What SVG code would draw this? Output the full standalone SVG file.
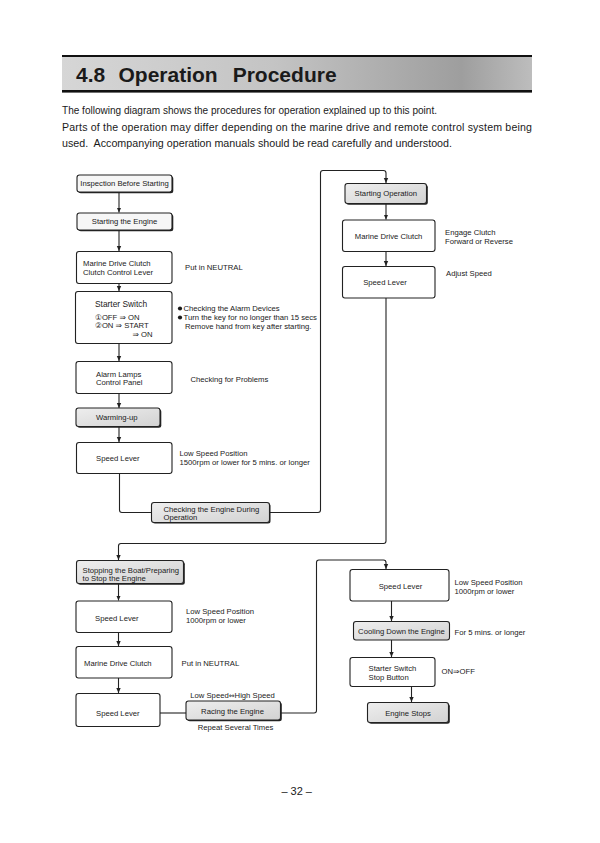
<svg xmlns="http://www.w3.org/2000/svg" width="600" height="843" viewBox="0 0 600 843">
<defs>
<linearGradient id="hdr" x1="0" y1="0" x2="1" y2="0">
<stop offset="0" stop-color="#d6d6d6"/>
<stop offset="0.45" stop-color="#c4c4c4"/>
<stop offset="0.85" stop-color="#9e9e9e"/>
<stop offset="1" stop-color="#bdbdbd"/>
</linearGradient>
<linearGradient id="shd" x1="0" y1="0" x2="1" y2="1">
<stop offset="0" stop-color="#eeeeee"/>
<stop offset="1" stop-color="#d2d2d2"/>
</linearGradient>
<marker id="ar" markerWidth="6" markerHeight="6" refX="5" refY="3" orient="auto" markerUnits="userSpaceOnUse">
<path d="M0,0.8 L5,3 L0,5.2 Z" fill="#222"/>
</marker>
</defs>
<style>
text { font-family: "Liberation Sans", Arial, "DejaVu Sans", sans-serif; fill: #1a1a1a; }
.t { font-size: 7.7px; }
.m { text-anchor: middle; }
.body { font-size: 10.6px; }
.box { fill: #ffffff; stroke: #222; stroke-width: 1.1; }
.sbox { fill: url(#shd); stroke: #222; stroke-width: 1.1; }
.lite { fill: #f6f6f6; stroke: #222; stroke-width: 1.1; }
.sh { fill: #222; }
.c { fill: none; stroke: #222; stroke-width: 1.1; }
.dv { font-family: "DejaVu Sans", sans-serif; font-size: 7px; }
</style>
<rect width="600" height="843" fill="#ffffff"/>

<g id="header">
<rect x="62" y="56" width="470" height="35" fill="url(#hdr)"/>
<rect x="62" y="55" width="470" height="2" fill="#111"/>
<rect x="62" y="90" width="470" height="2.6" fill="#111"/>
<text x="76" y="82" font-size="21" font-weight="bold">4.8</text>
<text x="118.5" y="82" font-size="21" font-weight="bold">Operation</text>
<text x="232.7" y="82" font-size="21" font-weight="bold">Procedure</text>
</g>

<g id="intro">
<text class="body" x="62" y="114" textLength="375" lengthAdjust="spacingAndGlyphs">The following diagram shows the procedures for operation explained up to this point.</text>
<text class="body" x="62" y="131" textLength="470" lengthAdjust="spacing">Parts of the operation may differ depending on the marine drive and remote control system being</text>
<text class="body" x="62" y="147" textLength="390" lengthAdjust="spacingAndGlyphs" xml:space="preserve">used.  Accompanying operation manuals should be read carefully and understood.</text>
</g>

<g id="connectors">
<line class="c" x1="119" y1="192" x2="119" y2="212.5" marker-end="url(#ar)"/>
<line class="c" x1="119" y1="230" x2="119" y2="251" marker-end="url(#ar)"/>
<line class="c" x1="119" y1="283.5" x2="119" y2="291" marker-end="url(#ar)"/>
<line class="c" x1="119" y1="343.5" x2="119" y2="361" marker-end="url(#ar)"/>
<line class="c" x1="119" y1="393.5" x2="119" y2="408" marker-end="url(#ar)"/>
<line class="c" x1="119" y1="427" x2="119" y2="442" marker-end="url(#ar)"/>
<path class="c" d="M119.5,473.5 V510 Q119.5,512.5 122,512.5 H151.5"/>
<path class="c" d="M269.5,512.5 H318 Q320.5,512.5 320.5,510 V173 Q320.5,170.5 323,170.5 H383.5 Q386,170.5 386,173 V183" marker-end="url(#ar)"/>
<line class="c" x1="386" y1="203.5" x2="386" y2="219.5" marker-end="url(#ar)"/>
<line class="c" x1="386" y1="251.5" x2="386" y2="266" marker-end="url(#ar)"/>
<path class="c" d="M386,298 V541 Q386,543.5 383.5,543.5 H121 Q118.5,543.5 118.5,546 V560" marker-end="url(#ar)"/>
<line class="c" x1="118.5" y1="583.5" x2="118.5" y2="600.5" marker-end="url(#ar)"/>
<line class="c" x1="118.5" y1="632.5" x2="118.5" y2="646" marker-end="url(#ar)"/>
<line class="c" x1="118.5" y1="678" x2="118.5" y2="693" marker-end="url(#ar)"/>
<line class="c" x1="160" y1="713" x2="186" y2="713"/>
<path class="c" d="M280.5,713 H314 Q316.5,713 316.5,710.5 V562.5 Q316.5,560 319,560 H383.5 Q386,560 386,562.5 V569" marker-end="url(#ar)"/>
<line class="c" x1="391.5" y1="601" x2="391.5" y2="621" marker-end="url(#ar)"/>
<line class="c" x1="391.5" y1="640" x2="391.5" y2="657" marker-end="url(#ar)"/>
<line class="c" x1="411.5" y1="686.5" x2="411.5" y2="702" marker-end="url(#ar)"/>
</g>

<g id="n-inspection">
<rect class="sh" x="78.3" y="176.3" width="95" height="17" rx="2.5"/>
<rect class="lite" x="77" y="175" width="95" height="17" rx="2.5"/>
<text class="t m" x="124.5" y="186.3">Inspection Before Starting</text>
</g>
<g id="n-starting-engine">
<rect class="sh" x="78.3" y="214.3" width="95" height="17" rx="2.5"/>
<rect class="lite" x="77" y="213" width="95" height="17" rx="2.5"/>
<text class="t m" x="124.5" y="224.3">Starting the Engine</text>
</g>
<g id="n-marine1">
<rect class="box" x="76.5" y="251.5" width="95.5" height="32" rx="2.5"/>
<text class="t" x="83" y="266.3">Marine Drive Clutch</text>
<text class="t" x="83" y="275">Clutch Control Lever</text>
<text class="t" x="185" y="269.5">Put in NEUTRAL</text>
</g>
<g id="n-starter1">
<rect class="box" x="75.5" y="291.5" width="96.5" height="52" rx="2.5"/>
<text x="95" y="307.3" font-size="8.4">Starter Switch</text>
<text class="t" x="95" y="319.5">①OFF ⇒ ON</text>
<text class="t" x="95" y="328">②ON ⇒ START</text>
<text class="t" x="132.5" y="337">⇒ ON</text>
<circle cx="180" cy="308.5" r="2.1" fill="#1a1a1a"/>
<text class="t" x="183.5" y="311.2">Checking the Alarm Devices</text>
<circle cx="180" cy="317.5" r="2.1" fill="#1a1a1a"/>
<text class="t" x="183.5" y="320.2">Turn the key for no longer than 15 secs</text>
<text class="t" x="185" y="329">Remove hand from key after starting.</text>
</g>
<g id="n-alarm">
<rect class="box" x="76" y="361.5" width="96" height="32" rx="2.5"/>
<text class="t" x="96" y="376.5">Alarm Lamps</text>
<text class="t" x="96" y="385">Control Panel</text>
<text class="t" x="190.5" y="382">Checking for Problems</text>
</g>
<g id="n-warming">
<rect class="sh" x="77.3" y="409.3" width="84" height="18.5" rx="2.5"/>
<rect class="sbox" x="76" y="408" width="84" height="18.5" rx="2.5"/>
<text class="t" x="96" y="419.8">Warming-up</text>
</g>
<g id="n-speed1">
<rect class="box" x="76.5" y="442.5" width="95.5" height="31" rx="2.5"/>
<text class="t" x="96" y="461">Speed Lever</text>
<text class="t" x="179.5" y="455.5">Low Speed Position</text>
<text class="t" x="179.5" y="464.5">1500rpm or lower for 5 mins. or longer</text>
</g>
<g id="n-checking">
<rect class="sh" x="152.5" y="503.5" width="118" height="20" rx="2.5"/>
<rect class="sbox" x="151.5" y="502.5" width="118" height="20" rx="2.5"/>
<text class="t" x="163.5" y="511.8">Checking the Engine During</text>
<text class="t" x="163.5" y="520">Operation</text>
</g>

<g id="n-starting-op">
<rect class="sh" x="346.3" y="184.8" width="81.5" height="20" rx="2.5"/>
<rect class="sbox" x="345" y="183.5" width="81.5" height="20" rx="2.5"/>
<text class="t m" x="385.8" y="196.2">Starting Operation</text>
</g>
<g id="n-marine2">
<rect class="box" x="342.5" y="220" width="92.5" height="31.5" rx="2.5"/>
<text class="t m" x="388.5" y="238.8">Marine Drive Clutch</text>
<text class="t" x="445" y="234.5">Engage Clutch</text>
<text class="t" x="445" y="243.5">Forward or Reverse</text>
</g>
<g id="n-speed2">
<rect class="box" x="342.5" y="266.5" width="92.5" height="31.5" rx="2.5"/>
<text class="t m" x="385" y="284.5">Speed Lever</text>
<text class="t" x="446" y="275.5">Adjust Speed</text>
</g>

<g id="n-stopping">
<rect class="sh" x="77.8" y="561.8" width="107" height="23" rx="2.5"/>
<rect class="sbox" x="76.5" y="560.5" width="107" height="23" rx="2.5"/>
<text class="t" x="82.5" y="572.8">Stopping the Boat/Preparing</text>
<text class="t" x="82.5" y="581">to Stop the Engine</text>
</g>
<g id="n-speed3">
<rect class="box" x="76" y="601" width="96" height="31.5" rx="2.5"/>
<text class="t" x="95" y="621">Speed Lever</text>
<text class="t" x="186" y="613.8">Low Speed Position</text>
<text class="t" x="186" y="622.8">1000rpm or lower</text>
</g>
<g id="n-marine3">
<rect class="box" x="76" y="646.5" width="96" height="31.5" rx="2.5"/>
<text class="t" x="84" y="665.5">Marine Drive Clutch</text>
<text class="t" x="181.5" y="666">Put in NEUTRAL</text>
</g>
<g id="n-speed4">
<rect class="box" x="76" y="693.5" width="84" height="33" rx="2.5"/>
<text class="t" x="96" y="715.5">Speed Lever</text>
</g>
<g id="n-racing">
<rect class="sh" x="187.3" y="702.3" width="94.5" height="19" rx="2.5"/>
<rect class="sbox" x="186" y="701" width="94.5" height="19" rx="2.5"/>
<text class="t m" x="232.5" y="713.5">Racing the Engine</text>
<text class="t m" x="232.5" y="697.8">Low Speed<tspan class="dv">⇔</tspan>High Speed</text>
<text class="t m" x="235.5" y="730">Repeat Several Times</text>
</g>

<g id="n-speed5">
<rect class="box" x="350" y="569.5" width="99" height="31.5" rx="2.5"/>
<text class="t m" x="400.5" y="588.8">Speed Lever</text>
<text class="t" x="454.5" y="584.8">Low Speed Position</text>
<text class="t" x="454.5" y="593.8">1000rpm or lower</text>
</g>
<g id="n-cooling">
<rect class="sbox" x="353.5" y="621.5" width="96" height="18.5" rx="2.5"/>
<text class="t m" x="401.5" y="633.5">Cooling Down the Engine</text>
<text class="t" x="454.5" y="634.5">For 5 mins. or longer</text>
</g>
<g id="n-starter2">
<rect class="box" x="350" y="657.5" width="85" height="29" rx="2.5"/>
<text class="t" x="368.5" y="670.5">Starter Switch</text>
<text class="t" x="368.5" y="679.5">Stop Button</text>
<text class="t" x="441.5" y="673.8">ON⇒OFF</text>
</g>
<g id="n-engine-stops">
<rect class="sh" x="368.8" y="703.8" width="81" height="20" rx="2.5"/>
<rect class="sbox" x="367.5" y="702.5" width="81" height="20" rx="2.5"/>
<text class="t m" x="408" y="716">Engine Stops</text>
</g>

<g id="page-number">
<text x="296.7" y="794.5" font-size="11" text-anchor="middle">– 32 –</text>
</g>
</svg>
